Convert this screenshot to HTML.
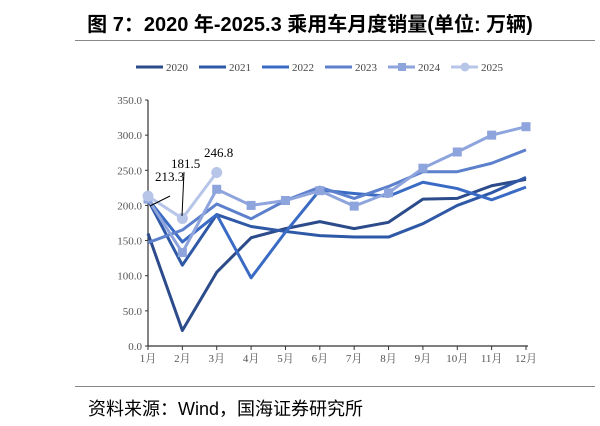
<!DOCTYPE html>
<html><head><meta charset="utf-8"><style>
body{margin:0;background:#fff;width:600px;height:426px;overflow:hidden;font-family:"Liberation Serif","Noto Serif CJK SC",serif}
#title{position:absolute;left:0;top:8px;width:620px;text-align:center;font:bold 20px "Liberation Sans","Noto Sans CJK SC",sans-serif;color:#000}
#src{position:absolute;left:88px;top:395px;font:18px "Liberation Sans","Noto Sans CJK SC",sans-serif;color:#000}
#rule1{position:absolute;left:75px;top:40px;width:520px;height:1px;background:#888}
#rule2{position:absolute;left:75px;top:386px;width:520px;height:1px;background:#888}
</style></head><body>
<div id="title">图 7：2020 年-2025.3 乘用车月度销量(单位: 万辆)</div>
<div id="rule1"></div>
<svg id="chart" width="600" height="426" style="position:absolute;left:0;top:0"></svg>
<div id="rule2"></div>
<div id="src">资料来源：Wind，国海证券研究所</div>
<script>
const months=["1月","2月","3月","4月","5月","6月","7月","8月","9月","10月","11月","12月"];
const yTicks=[0,50,100,150,200,250,300,350];
const years=["2020","2021","2022","2023","2024","2025"];
const s2020=[160,22,105,154,167,177,167,176,209,210,228,237];
const s2021=[208,115,187,170,163,157,155,155,174,200,218,240];
const s2022=[209,148,187,97,162,222,217,213,233,224,208,226];
const s2023=[147,165,202,181,207,226,210,227,248,248,260,279];
const s2024=[209,133,223,200,207,221,199,218,253,276,300,312];
const s2025=[213.3,181.5,246.8];
const series=[s2020,s2021,s2022,s2023,s2024,s2025];
const colors=["#2C4B8A","#2F59A6","#3A6BC4","#5C80CC","#8EA4DC","#B7C5E8"];
const markers=["none","none","none","none","square","circle"];
const NS="http://www.w3.org/2000/svg";
const svg=document.getElementById('chart');
const x=i=>148+i*(526-148)/11;
const y=v=>346-v*(246/350);
function el(t,a,p){const e=document.createElementNS(NS,t);for(const k in a)e.setAttribute(k,a[k]);(p||svg).appendChild(e);return e;}
let ax=el('line',{x1:148,y1:100,x2:148,y2:346,stroke:'#333','stroke-width':1.2});


let xa=el('line',{x1:148,y1:346,x2:528,y2:346,stroke:'#333','stroke-width':1.2});


yTicks.forEach(v=>{
  el('line',{x1:145,y1:y(v),x2:148,y2:y(v),stroke:'#333'});
  const t=el('text',{x:142,y:y(v)+4,'text-anchor':'end','font-size':11,fill:'#555'});t.textContent=v.toFixed(1);
  
  
});
months.forEach((m,i)=>{
  el('line',{x1:x(i),y1:346,x2:x(i),y2:350,stroke:'#333'});
  const t=el('text',{x:x(i),y:362,'text-anchor':'middle','font-size':11,fill:'#555'});t.textContent=m;
  
  
});
series.forEach((s,k)=>{
  const p=el('polyline',{points:s.map((v,i)=>x(i)+','+y(v)).join(' '),fill:'none',stroke:colors[k],'stroke-width':3,'stroke-linejoin':'round'});
  
  
  s.forEach((v,i)=>{
    let m=null;
    if(markers[k]==='square')m=el('rect',{x:x(i)-4.5,y:y(v)-4.5,width:9,height:9,fill:colors[k]});
    if(markers[k]==='circle')m=el('circle',{cx:x(i),cy:y(v),r:5.5,fill:colors[k]});
    if(m){}
  });
});
const ann=[["213.3",155,181],["181.5",171,168],["246.8",204,157]];
ann.forEach(a=>{
  const t=el('text',{x:a[1],y:a[2],'font-size':13,fill:'#000'});t.textContent=a[0];
  
  
});
el('line',{x1:150,y1:206,x2:170,y2:196,stroke:'#000'});
el('line',{x1:184,y1:172,x2:182,y2:216,stroke:'#000'});
years.forEach((yr,k)=>{
  const lx=136+k*63;
  const g=el('g',{});
  
  
  el('line',{x1:lx,y1:67,x2:lx+27,y2:67,stroke:colors[k],'stroke-width':3},g);
  if(markers[k]==='square')el('rect',{x:lx+10,y:63,width:8,height:8,fill:colors[k]},g);
  if(markers[k]==='circle')el('circle',{cx:lx+14,cy:67,r:4.5,fill:colors[k]},g);
  const t=el('text',{x:lx+30,y:71,'font-size':11,fill:'#444'},g);t.textContent=yr;
});
</script>
</body></html>
